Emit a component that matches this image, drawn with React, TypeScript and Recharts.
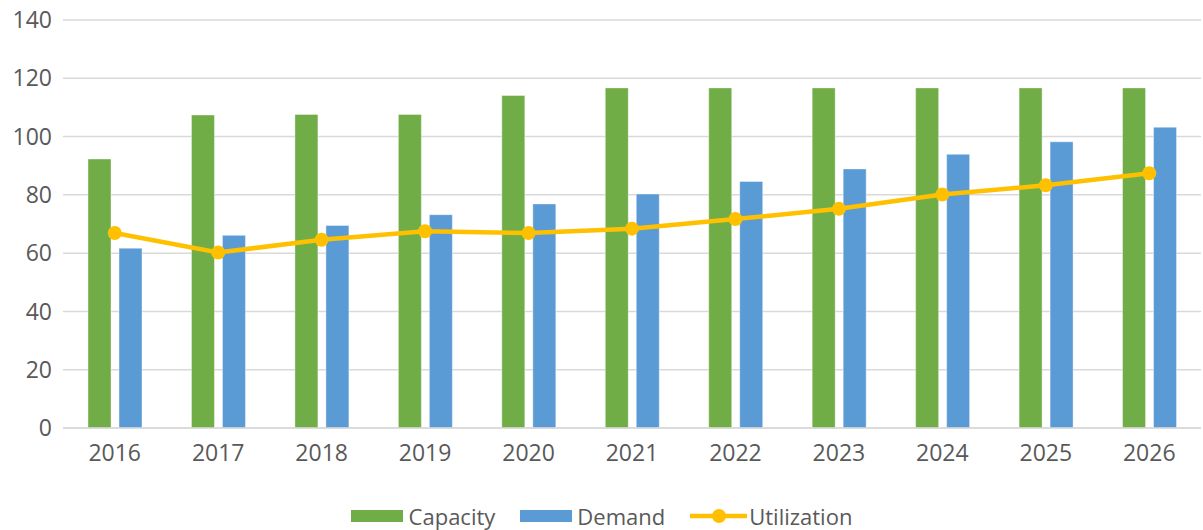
import React from "react";
import { ComposedChart, Bar, Line, XAxis, YAxis, CartesianGrid } from "recharts";

const years = ["2016", "2017", "2018", "2019", "2020", "2021", "2022", "2023", "2024", "2025", "2026"];
const capacity = [92.3, 107.4, 107.6, 107.6, 114.1, 116.7, 116.7, 116.7, 116.7, 116.7, 116.7];
const demand = [61.7, 66.1, 69.5, 73.2, 76.9, 80.3, 84.6, 88.9, 93.9, 98.2, 103.2];
const utilization = [66.9, 60.2, 64.6, 67.5, 66.9, 68.4, 71.7, 75.2, 80.1, 83.3, 87.4];
const yTicks = [0, 20, 40, 60, 80, 100, 120, 140];

const data = years.map((y, i) => ({
  year: y,
  Capacity: capacity[i],
  Demand: demand[i],
  Utilization: utilization[i],
}));

const FONT = "'Open Sans', Lato, sans-serif";
const TEXT = "#595959";
const GREEN = "#70AD47";
const BLUE = "#5B9BD5";
const YELLOW = "#FFC000";

const LegendBox = () => (
  <div
    style={{
      position: "absolute",
      left: 0,
      top: 501,
      width: 1203,
      height: 30,
      display: "flex",
      justifyContent: "center",
      alignItems: "center",
      fontFamily: FONT,
      fontSize: 22,
      color: TEXT,
    }}
  >
    <div style={{ display: "flex", alignItems: "center", marginRight: 25 }}>
      <div style={{ width: 52, height: 12, background: GREEN, marginRight: 6 }} />
      <span>Capacity</span>
    </div>
    <div style={{ display: "flex", alignItems: "center", marginRight: 25 }}>
      <div style={{ width: 52, height: 12, background: BLUE, marginRight: 5 }} />
      <span>Demand</span>
    </div>
    <div style={{ display: "flex", alignItems: "center" }}>
      <svg width={57} height={16} style={{ marginRight: 2 }}>
        <line x1={0} y1={8} x2={57} y2={8} stroke={YELLOW} strokeWidth={4.5} />
        <circle cx={29} cy={8} r={7} fill={YELLOW} />
      </svg>
      <span>Utilization</span>
    </div>
  </div>
);

export default function App() {
  return (
    <div style={{ position: "absolute", left: 0, top: 0, width: 1203, height: 530, background: "#fff" }}>
      <ComposedChart
        width={1203}
        height={530}
        data={data}
        margin={{ top: 20, right: 2, bottom: 0, left: 1 }}
        barGap={8}
      >
        <CartesianGrid vertical={false} stroke="#d9d9d9" strokeWidth={1.5} />
        <XAxis
          dataKey="year"
          axisLine={{ stroke: "#d9d9d9", strokeWidth: 1.5 }}
          tickLine={false}
          tickSize={0}
          tickMargin={17}
          height={102}
          tick={{ fill: TEXT, fontSize: 23, fontFamily: FONT }}
        />
        <YAxis
          domain={[0, 140]}
          ticks={yTicks}
          axisLine={false}
          tickLine={false}
          tickSize={0}
          tickMargin={11}
          width={62}
          tick={{ fill: TEXT, fontSize: 23, fontFamily: FONT }}
        />
        <Bar dataKey="Capacity" fill={GREEN} barSize={23} stroke="#ffffff" strokeOpacity={0.4} strokeWidth={1} isAnimationActive={false} />
        <Bar dataKey="Demand" fill={BLUE} barSize={23} stroke="#ffffff" strokeOpacity={0.4} strokeWidth={1} isAnimationActive={false} />
        <Line
          dataKey="Utilization"
          stroke={YELLOW}
          strokeWidth={4.5}
          dot={{ r: 7, fill: YELLOW, stroke: YELLOW, strokeWidth: 0 }}
          activeDot={false}
          isAnimationActive={false}
        />
      </ComposedChart>
      <LegendBox />
    </div>
  );
}
